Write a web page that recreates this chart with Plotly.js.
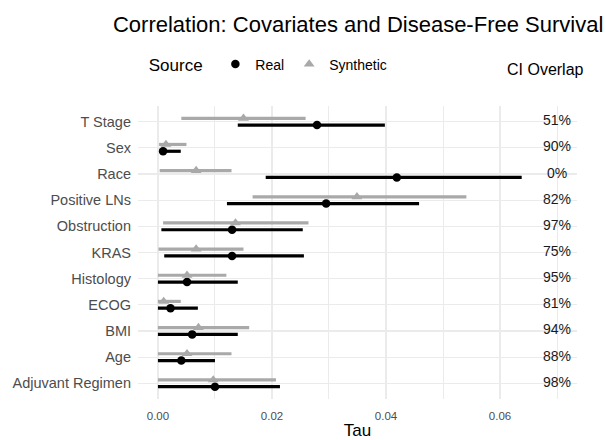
<!DOCTYPE html>
<html>
<head>
<meta charset="utf-8">
<script src="https://cdn.plot.ly/plotly-3.0.1.min.js"></script>
<style>html,body{margin:0;padding:0;background:#fff;}#chart{width:606px;height:440px;}</style>
</head>
<body>
<div id="chart"></div>
<script>
const covariates = ["T Stage","Sex","Race","Positive LNs","Obstruction","KRAS","Histology","ECOG","BMI","Age","Adjuvant Regimen"];
const realTau   = [0.0279,0.0009,0.0419,0.0295,0.0130,0.0130,0.0051,0.0022,0.0060,0.0041,0.0100];
const realLow   = [0.0140,0.0002,0.0189,0.0121,0.0006,0.0011,0.0000,0.0000,0.0000,0.0000,0.0000];
const realHigh  = [0.0398,0.0040,0.0638,0.0458,0.0254,0.0256,0.0140,0.0070,0.0140,0.0100,0.0214];
const synTau    = [0.0150,0.0014,0.0067,0.0349,0.0136,0.0067,0.0051,0.0010,0.0071,0.0051,0.0097];
const synLow    = [0.0041,0.0002,0.0003,0.0166,0.0009,0.0001,0.0000,0.0000,0.0000,0.0000,0.0000];
const synHigh   = [0.0259,0.0050,0.0129,0.0541,0.0264,0.0150,0.0120,0.0040,0.0160,0.0129,0.0207];
const ciOverlap = ["51%","90%","0%","82%","97%","75%","95%","81%","94%","88%","98%"];
const xTickVals = [0, 0.02, 0.04, 0.06];
const xTickText = ["0.00","0.02","0.04","0.06"];

const dodge = 0.13;
const overlapX = 0.07;
const idx = covariates.map((c,i)=>i);
const FONT = 'Liberation Sans, Arial, sans-serif';

const realTrace = {
  type:'scatter', mode:'markers', name:'Real',
  x: realTau, y: idx.map(i=>i+dodge),
  marker:{color:'#000000', size:8.5, symbol:'circle'},
  error_x:{type:'data', symmetric:false,
    array: realHigh.map((h,i)=>h-realTau[i]),
    arrayminus: realLow.map((l,i)=>realTau[i]-l),
    color:'#000000', thickness:3.2, width:0}
};
const synTrace = {
  type:'scatter', mode:'markers', name:'Synthetic',
  x: synTau, y: idx.map(i=>i-dodge),
  marker:{color:'#a9a9a9', size:9.5, symbol:'triangle-up'},
  error_x:{type:'data', symmetric:false,
    array: synHigh.map((h,i)=>h-synTau[i]),
    arrayminus: synLow.map((l,i)=>synTau[i]-l),
    color:'#a9a9a9', thickness:3.2, width:0}
};
const textTrace = {
  type:'scatter', mode:'text', showlegend:false, hoverinfo:'skip',
  x: idx.map(()=>overlapX), y: idx, text: ciOverlap,
  textposition:'middle center',
  textfont:{family:FONT, size:14, color:'#1a1a1a'}
};

const layout = {
  width:606, height:440,
  margin:{l:138, r:29, t:106, b:41},
  paper_bgcolor:'#ffffff', plot_bgcolor:'#ffffff',
  font:{family:FONT, color:'#000'},
  title:{text:'Correlation: Covariates and Disease-Free Survival', xref:'container', x:0.591, xanchor:'center', y:0.945, yanchor:'middle', font:{size:22, color:'#000'}},
  xaxis:{range:[-0.0035,0.0735], tickvals:xTickVals, ticktext:xTickText, showgrid:true, gridcolor:'#ebebeb', gridwidth:1.1, zeroline:false, showline:false, ticks:'',
    tickfont:{size:11.5, color:'#4d4d4d'}, ticklabelstandoff:8,
    minor:{dtick:0.01, tick0:0, showgrid:true, gridcolor:'#ebebeb', gridwidth:1, ticks:''},
    title:{text:'Tau', font:{size:17, color:'#000'}, standoff:4}},
  yaxis:{range:[10.6,-0.6], tickvals:idx, ticktext:covariates, showgrid:true, gridcolor:'#ebebeb', gridwidth:1.1, zeroline:false, showline:false, ticks:'',
    tickfont:{size:14.5, color:'#4d4d4d'}, ticklabelstandoff:6},
  showlegend:true,
  legend:{orientation:'h', x:0.02, xanchor:'left', y:1.14, yanchor:'middle',
    title:{text:'Source ', font:{size:17, color:'#000'}, side:'left'},
    font:{size:14, color:'#000'}, traceorder:'normal', bgcolor:'rgba(0,0,0,0)'},
  annotations:[{text:'CI Overlap', xref:'paper', yref:'paper', x:0.929, y:1.123, xanchor:'center', yanchor:'middle', showarrow:false, font:{size:16, color:'#000'}}]
};

Plotly.newPlot('chart', [realTrace, synTrace, textTrace], layout, {displayModeBar:false, staticPlot:true});
</script>
</body>
</html>
